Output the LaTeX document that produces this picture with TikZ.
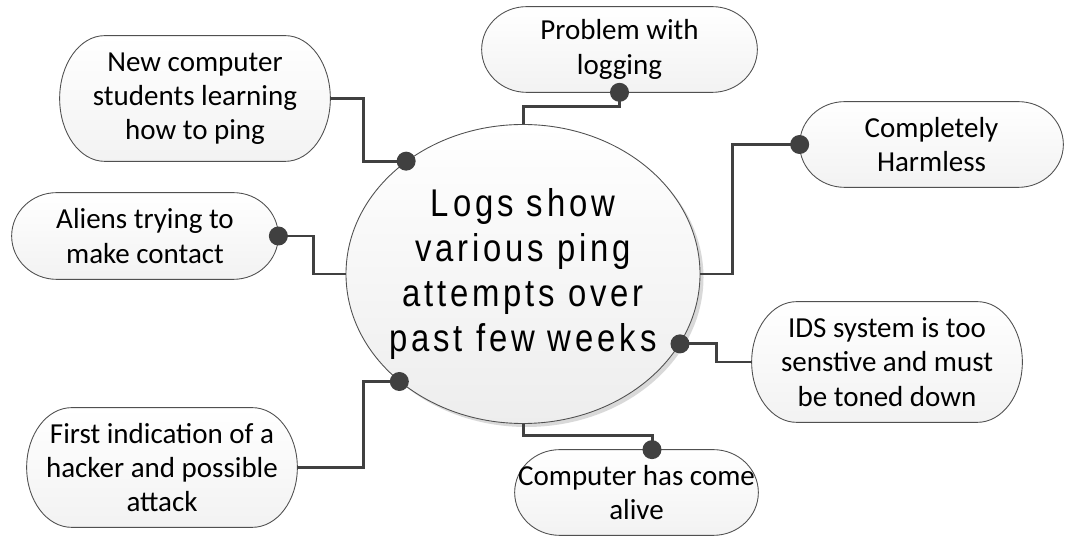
\documentclass[tikz,border=0pt]{standalone}
\usepackage{fontspec}
\usetikzlibrary{arrows.meta, positioning, shapes.geometric, backgrounds, calc, shadows}
\newfontfamily\notefont{Carlito}
\newfontfamily\hubfont[FakeStretch=0.85, LetterSpace=10]{Liberation Sans}
\definecolor{linkgray}{RGB}{64,64,64}
\definecolor{rimgray}{RGB}{80,80,80}
\newcommand{\pillr}{0.9cm}
% outline of an idea bubble: flat top and bottom, half-ellipse ends
\newcommand{\pillpath}[1]{let \p1=(#1.north west), \p2=(#1.south east) in
  (\x1+\pillr,\y1) -- (\x2-\pillr,\y1)
  arc[start angle=90, end angle=-90, x radius=\pillr, y radius={0.5*(\y1-\y2)}]
  -- (\x1+\pillr,\y2)
  arc[start angle=270, end angle=90, x radius=\pillr, y radius={0.5*(\y1-\y2)}] -- cycle}
\tikzset{
  idea/.style       = {rectangle, inner sep=0pt, align=center,
                       font=\notefont\fontsize{16.5}{19.5}\selectfont},
  pill/.style       = {draw=rimgray, line width=0.5pt, top color=white, bottom color=black!5},
  pillshadow/.style = {fill=black!14},
  hub/.style        = {ellipse, draw=rimgray, line width=0.5pt, top color=white,
                       bottom color=black!7, inner xsep=-0.5cm, inner ysep=0pt,
                       minimum width=7.08cm, minimum height=5.98cm, align=center,
                       font=\hubfont\fontsize{22}{25.5}\selectfont,
                       drop shadow={shadow xshift=0.07cm, shadow yshift=-0.07cm,
                                    fill=black, opacity=0.15}},
  link/.style       = {draw=linkgray, line width=1.7pt},
  dot/.style        = {fill=linkgray},
}

\begin{document}
\begin{tikzpicture}
  \useasboundingbox (0,0) rectangle (21.3,10.74);
  % central question
  \node[hub] (hub) at (10.46,5.26) {Logs show\\various ping\\attempts over\\past few weeks};
  % possible explanations
  \foreach \name/\x/\y/\w/\h/\txt in {
      learn/3.90/8.77/5.40/2.50/{New computer\\students learning\\how to ping},
      alien/2.90/6.02/5.32/1.72/{Aliens trying to\\make contact},
      logging/12.39/9.75/5.50/1.70/{Problem with\\logging},
      harmless/18.63/7.85/5.26/1.70/{Completely\\Harmless},
      ids/17.74/3.50/5.40/2.40/{IDS system is too\\senstive and must\\be toned down},
      alive/12.73/0.89/4.86/1.70/{Computer has come\\alive},
      hacker/3.24/1.39/5.40/2.38/{First indication of a\\hacker and possible\\attack}} {
    \node[idea, minimum width=\w cm, minimum height=\h cm] (\name) at (\x,\y) {\txt};
  }
  \begin{scope}[on background layer]
    \foreach \who in {learn, alien, logging, harmless, ids, alive, hacker} {
      \fill[pillshadow, xshift=0.07cm, yshift=-0.07cm] \pillpath{\who};
      \draw[pill] \pillpath{\who};
    }
  \end{scope}
  \coordinate (alivetop) at ([xshift=0.31cm]alive.north);
  % connectors
  \draw[link] (learn.east) -- ++(0.66,0) |- (hub.136);
  \draw[link] (alien.east) -- ++(0.70,0) |- (hub.west);
  \draw[link] (hub.north) -- ++(0,0.35) -| (logging.south);
  \draw[link] (harmless.west) -- ++(-1.34,0) |- (hub.east);
  \draw[link] (hub.-24) -- ++(0.74,0) |- (ids.west);
  \draw[link] (hub.south) -- ++(0,-0.23) -| (alivetop);
  \draw[link] (hacker.east) -- ++(1.32,0) |- (hub.221);
  \foreach \spot in {hub.136, alien.east, logging.south, harmless.west, hub.-24, alivetop, hub.221}
    \fill[dot] (\spot) circle[radius=0.19cm];
\end{tikzpicture}
\end{document}
